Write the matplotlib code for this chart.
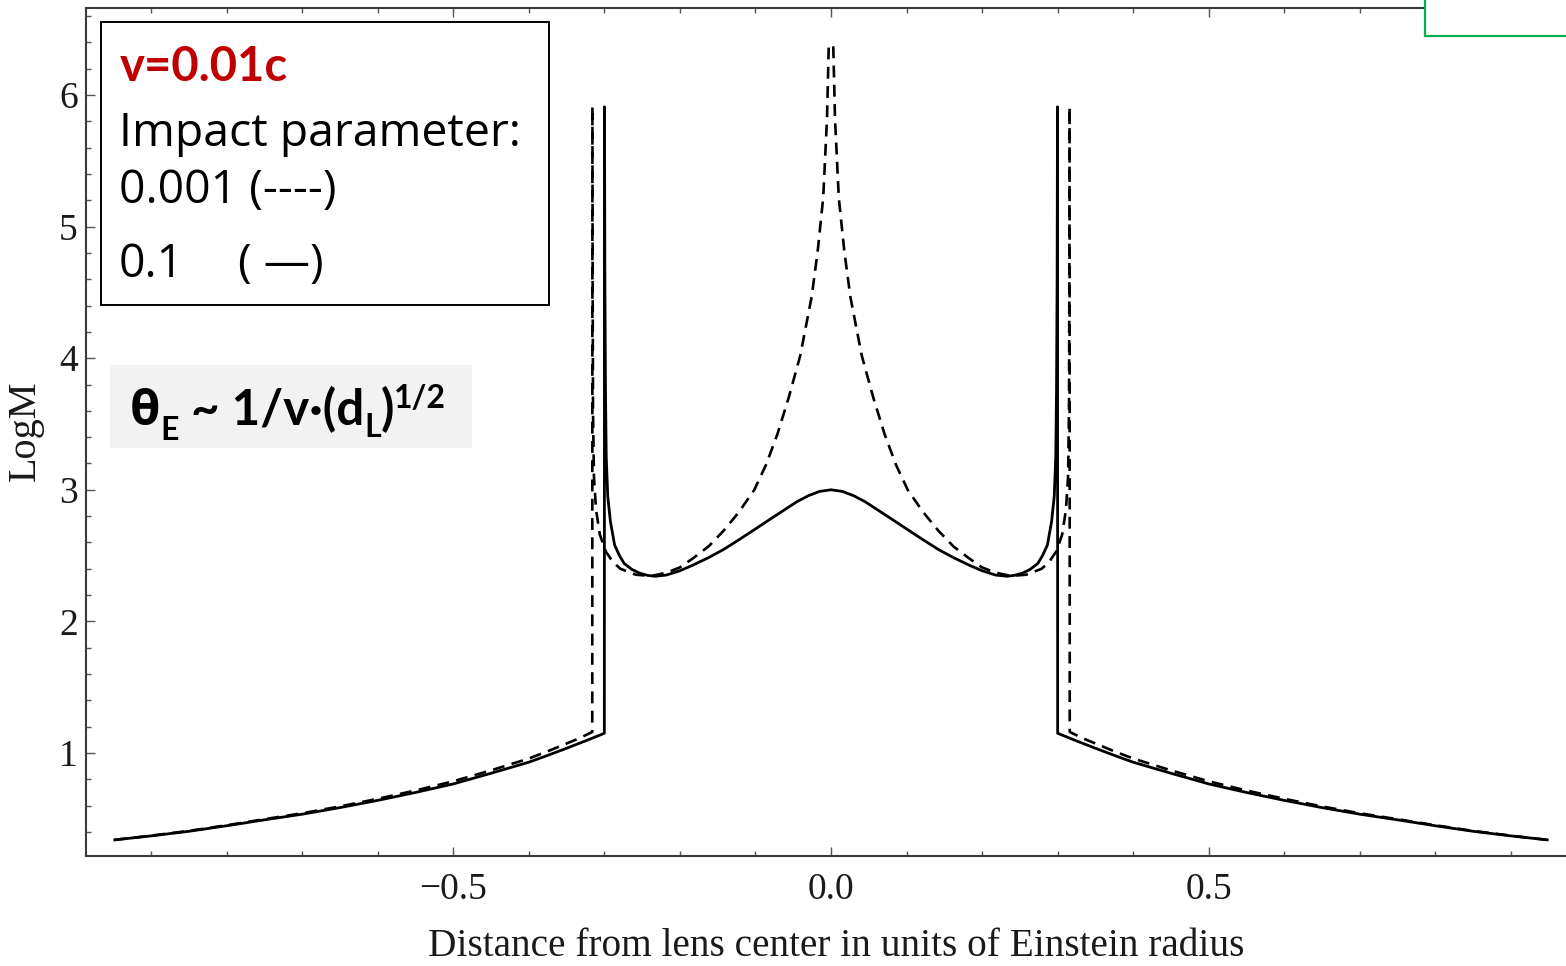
import matplotlib
matplotlib.use("Agg")
import matplotlib.pyplot as plt
from matplotlib.patches import Rectangle
from matplotlib.text import Annotation
from matplotlib.ticker import MultipleLocator, FixedLocator, FixedFormatter

# ---------------- data ----------------
# impact parameter 0.1 (solid line)
solid_left_x = [-0.948, -0.90, -0.85, -0.80, -0.75, -0.70, -0.65, -0.60, -0.55, -0.50,
                -0.45, -0.40, -0.375, -0.35, -0.325, -0.300,
                -0.2998, -0.2993, -0.2985, -0.2975, -0.2955, -0.292, -0.2864, -0.280,
                -0.2737, -0.2635, -0.2535, -0.243, -0.233, -0.218, -0.200, -0.183,
                -0.162, -0.142, -0.122, -0.1015, -0.081, -0.061, -0.045, -0.030, -0.015, 0.0]
solid_left_y = [0.34, 0.37, 0.405, 0.447, 0.492, 0.535, 0.585, 0.640, 0.700, 0.765,
                0.846, 0.930, 0.982, 1.036, 1.092, 1.150,
                5.91, 4.60, 3.75, 3.25, 2.95, 2.76, 2.58, 2.50,
                2.44, 2.395, 2.367, 2.35, 2.343, 2.352, 2.385, 2.427,
                2.485, 2.547, 2.62, 2.697, 2.775, 2.85, 2.91, 2.955, 2.988, 3.0]
solid_right_x = [0.015, 0.030, 0.045, 0.061, 0.081, 0.1015, 0.122, 0.142, 0.162,
                 0.183, 0.200, 0.218, 0.233, 0.243, 0.2535, 0.2635, 0.2737, 0.280,
                 0.2864, 0.292, 0.2955, 0.2975, 0.2985, 0.2993, 0.2998,
                 0.300, 0.325, 0.35, 0.375, 0.40, 0.45, 0.50, 0.55, 0.60, 0.65, 0.70,
                 0.75, 0.80, 0.85, 0.90, 0.948]
solid_right_y = [2.988, 2.955, 2.91, 2.85, 2.775, 2.697, 2.62, 2.547, 2.485,
                 2.427, 2.385, 2.352, 2.343, 2.35, 2.367, 2.395, 2.44, 2.50,
                 2.58, 2.76, 2.95, 3.25, 3.75, 4.60, 5.91,
                 1.150, 1.092, 1.036, 0.982, 0.930, 0.846, 0.765, 0.700, 0.640, 0.585, 0.535,
                 0.492, 0.447, 0.405, 0.37, 0.34]

# impact parameter 0.001 (dashed line)
dashed_left_x = [-0.948, -0.90, -0.85, -0.80, -0.75, -0.70, -0.65, -0.60, -0.55, -0.50,
                 -0.45, -0.40, -0.375, -0.35, -0.332, -0.316,
                 -0.3158, -0.3155, -0.3150, -0.3138, -0.311, -0.306, -0.298, -0.2885,
                 -0.2788, -0.2585, -0.2383, -0.218, -0.200, -0.1826, -0.162, -0.142,
                 -0.122, -0.1015, -0.086, -0.0711, -0.056, -0.0407, -0.0255, -0.0175,
                 -0.0103, -0.0053, -0.003]
dashed_left_y = [0.34, 0.372, 0.408, 0.451, 0.497, 0.542, 0.594, 0.652, 0.715, 0.785,
                 0.868, 0.958, 1.013, 1.072, 1.115, 1.16,
                 5.91, 4.60, 3.60, 3.10, 2.85, 2.66, 2.53, 2.45,
                 2.40, 2.355, 2.345, 2.37, 2.41, 2.48, 2.57, 2.69,
                 2.83, 3.00, 3.19, 3.42, 3.70, 4.02, 4.47, 4.82,
                 5.22, 5.82, 6.37]
dashed_right_x = [0.003, 0.0053, 0.0103, 0.0175, 0.0255, 0.0407, 0.056, 0.0711, 0.086,
                  0.1015, 0.122, 0.142, 0.162, 0.1826, 0.200, 0.218, 0.2383, 0.2585,
                  0.2788, 0.2885, 0.298, 0.306, 0.311, 0.3138, 0.3150, 0.3155, 0.3158,
                  0.316, 0.332, 0.35, 0.375, 0.40, 0.45, 0.50, 0.55, 0.60, 0.65, 0.70,
                  0.75, 0.80, 0.85, 0.90, 0.948]
dashed_right_y = [6.37, 5.82, 5.22, 4.82, 4.47, 4.02, 3.70, 3.42, 3.19,
                  3.00, 2.83, 2.69, 2.57, 2.48, 2.41, 2.37, 2.345, 2.355,
                  2.40, 2.45, 2.53, 2.66, 2.85, 3.10, 3.60, 4.60, 5.91,
                  1.16, 1.115, 1.072, 1.013, 0.958, 0.868, 0.785, 0.715, 0.652, 0.594, 0.542,
                  0.497, 0.451, 0.408, 0.372, 0.34]

x_major_ticks = [-0.5, 0.0, 0.5]
x_tick_labels = ["\u22120.5", "0.0", "0.5"]
y_major_ticks = [1, 2, 3, 4, 5, 6]
y_tick_labels = ["1", "2", "3", "4", "5", "6"]

x_label = "Distance from lens center in units of Einstein radius"
y_label = "LogM"
legend_title = "v=0.01c"
legend_lines = ["Impact parameter:", "0.001 (----)", "0.1", "( \u2014)"]
formula_pieces = ["\u03b8", "E", " ~ 1/v\u00b7(d", "L", ")", "1/2"]

# ---------------- figure ----------------
W, H = 1566, 966
fig = plt.figure(figsize=(W / 100, H / 100), dpi=100)

def fx(px):
    return px / W

def fy(py):
    return 1 - py / H

ax_left, ax_right, ax_top, ax_bottom = 86, 1570, 8, 856
ax = fig.add_axes([fx(ax_left), fy(ax_bottom), (ax_right - ax_left) / W, (ax_bottom - ax_top) / H])

ax.plot(solid_left_x + solid_right_x, solid_left_y + solid_right_y,
        color="black", lw=2.0, zorder=3)
ax.plot(dashed_left_x, dashed_left_y, color="black", lw=1.9, dashes=(4.5, 2.8), zorder=3)
ax.plot(dashed_right_x, dashed_right_y, color="black", lw=1.9, dashes=(4.5, 2.8), zorder=3)

# x scale: 0 at px 831, 755.5 px per unit ; y scale: 0 at px 884.6, 131.6 px per unit
ax.set_xlim((ax_left - 831) / 755.5, (ax_right - 831) / 755.5)
ax.set_ylim((884.6 - ax_bottom) / 131.6, (884.6 - ax_top) / 131.6)

ax.xaxis.set_major_locator(FixedLocator(x_major_ticks))
ax.xaxis.set_major_formatter(FixedFormatter(x_tick_labels))
ax.xaxis.set_minor_locator(MultipleLocator(0.1))
ax.yaxis.set_major_locator(FixedLocator(y_major_ticks))
ax.yaxis.set_major_formatter(FixedFormatter(y_tick_labels))
ax.yaxis.set_minor_locator(MultipleLocator(0.2))

spine_col = "#3a3a3a"
for s in ["left", "bottom", "top"]:
    ax.spines[s].set_color(spine_col)
    ax.spines[s].set_linewidth(1.5)
ax.spines["right"].set_visible(False)

ax.tick_params(which="both", direction="in", top=True, right=False, color="#555555",
               width=1.0)
ax.tick_params(which="major", length=6.5, labelsize=27, labelcolor="#1a1a1a")
ax.tick_params(axis="x", which="major", pad=12)
ax.tick_params(axis="y", which="major", pad=6)
ax.tick_params(which="minor", length=3.8)
for lab in ax.get_xticklabels() + ax.get_yticklabels():
    lab.set_fontfamily("Liberation Serif")

fig.text(fx(836.5), fy(947), x_label, ha="center", va="center",
         fontsize=28.3, family="Liberation Serif", color="#1a1a1a")
fig.text(fx(25), fy(431), y_label, ha="center", va="center", rotation=90,
         fontsize=29, family="Liberation Serif", color="#1a1a1a")

# ---------------- legend box ----------------
fig.add_artist(Rectangle((fx(101), fy(305)), (549 - 101) / W, (305 - 22) / H,
                         transform=fig.transFigure, fill=True, fc="white",
                         ec="black", lw=1.4, zorder=4))
sans = ["Open Sans", "Lato", "DejaVu Sans"]
bold_sans = ["Lato", "Open Sans", "DejaVu Sans"]
fig.text(fx(120), fy(81), legend_title, ha="left", va="baseline", fontsize=34,
         weight="bold", color="#C00000", family=bold_sans, zorder=5)
fig.text(fx(119), fy(146), legend_lines[0], ha="left", va="baseline", fontsize=33.3,
         color="black", family=sans, zorder=5)
fig.text(fx(119), fy(203), legend_lines[1], ha="left", va="baseline", fontsize=33.3,
         color="black", family=sans, zorder=5)
fig.text(fx(119), fy(277), legend_lines[2], ha="left", va="baseline", fontsize=33.3,
         color="black", family=sans, zorder=5)
fig.text(fx(238), fy(277), legend_lines[3], ha="left", va="baseline", fontsize=33.3,
         color="black", family=sans, zorder=5)

# ---------------- theta_E annotation ----------------
fig.add_artist(Rectangle((fx(110), fy(448)), (472 - 110) / W, (448 - 365) / H,
                         transform=fig.transFigure, fc="#F2F2F2", ec="none", zorder=4))
base = H - 425
sizes = [35.5, 23, 35.5, 23, 35.5, 23]
offsets = [0, -15, 0, -12, 0, 17]
prev = fig.text(fx(130), (base + offsets[0]) / H, formula_pieces[0], fontsize=sizes[0],
                weight="bold", family=["Open Sans", "DejaVu Sans"], ha="left",
                va="baseline", zorder=5)
for txt, size, dy in zip(formula_pieces[1:], sizes[1:], offsets[1:]):
    ann = Annotation(txt, xy=(1, base + dy), xycoords=(prev, "figure pixels"),
                     fontsize=size, weight="bold", family=bold_sans, ha="left",
                     va="baseline", annotation_clip=False, zorder=5)
    fig.add_artist(ann)
    prev = ann

# ---------------- green frame in the corner ----------------
fig.add_artist(Rectangle((fx(1425), fy(36)), (1575 - 1425) / W, 40 / H,
                         transform=fig.transFigure, fc="white", ec="#00B050",
                         lw=1.6, zorder=6))

fig.savefig("out.png", dpi=100)
